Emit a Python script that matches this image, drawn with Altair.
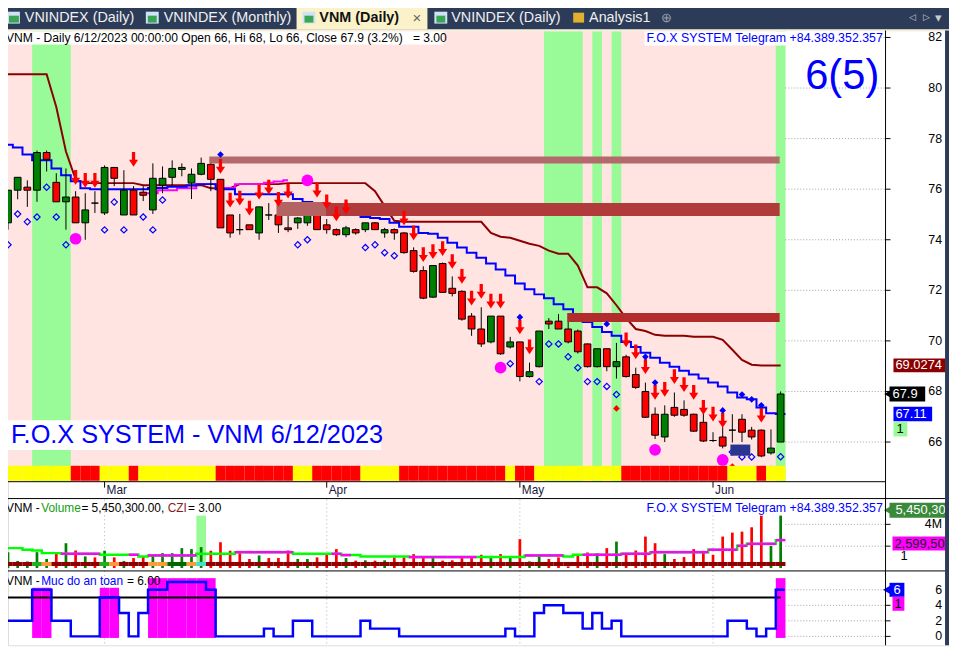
import altair as alt
import pandas as pd

# ---------------- data ----------------
months = ["Mar", "Apr", "May", "Jun"]
month_idx = [10, 33, 53, 73]

opens = [74.67, 75.96, 76.08, 75.96, 77.45, 76.27, 75.5, 75.69, 74.67, 75.45,
         75.06, 76.86, 74.98, 75.96, 75.88, 75.18, 76.16, 76.47, 76.78, 76.24,
         76.59, 76.98, 76.39, 74.98, 74.4, 74.59, 74.27, 74.98, 74.98, 74.47,
         74.67, 74.67, 74.98, 74.59, 74.4, 74.2, 74.4, 74.4, 74.67, 74.27,
         74.4, 74.27, 73.57, 72.78, 71.73, 73.06, 72.08, 71.96, 70.98, 70.47,
         69.96, 70.98, 69.76, 69.96, 68.59, 68.98, 70.78, 70.78, 70.47, 70.39,
         69.88, 68.98, 69.69, 68.98, 69.37, 68.67, 68.0, 67.1, 66.2, 67.37,
         67.29, 67.1, 66.78, 66.06, 66.2, 66.47, 66.9, 66.47, 66.47, 65.57, 66.0]
highs = [75.96, 76.47, 76.35, 77.53, 77.53, 76.63, 76.82, 75.92, 75.84, 75.92,
         76.94, 76.86, 76.75, 76.12, 76.12, 77.02, 76.9, 77.14, 77.02, 76.82,
         77.25, 77.22, 76.39, 74.98, 75.02, 74.59, 75.3, 75.45, 75.1, 75.3,
         74.9, 75.33, 75.33, 74.82, 74.45, 74.55, 74.45, 74.67, 74.7, 74.47,
         74.45, 74.3, 73.7, 72.95, 72.98, 73.1, 72.55, 72.0, 71.1, 71.33,
         70.98, 70.98, 70.16, 69.96, 69.14, 70.39, 70.9, 71.06, 70.75, 70.45,
         69.9, 69.69, 69.7, 69.92, 69.45, 68.94, 68.35, 67.37, 67.45, 67.96,
         67.65, 67.12, 67.2, 66.39, 66.59, 67.1, 67.1, 66.6, 66.5, 66.5, 68.0]
lows = [74.4, 75.6, 75.3, 75.5, 76.7, 75.5, 74.4, 74.67, 74.0, 75.06,
        74.98, 76.12, 74.98, 74.98, 75.53, 75.02, 75.84, 76.12, 76.51, 75.61,
        76.55, 75.92, 74.47, 74.08, 74.2, 74.4, 74.0, 74.78, 74.27, 74.3,
        74.43, 74.55, 74.4, 74.24, 74.15, 74.1, 74.2, 74.3, 74.4, 74.08,
        74.0, 73.45, 72.7, 71.65, 71.7, 71.9, 71.76, 70.8, 70.2, 69.76,
        69.9, 69.45, 69.7, 68.4, 68.55, 68.95, 70.47, 70.47, 69.9, 69.5,
        68.95, 68.95, 68.8, 68.51, 68.55, 68.1, 66.95, 66.12, 66.0, 67.0,
        67.0, 66.4, 66.0, 66.0, 65.75, 65.98, 66.0, 66.1, 65.4, 65.5, 66.0]
closes = [75.96, 76.47, 75.96, 77.45, 77.18, 75.5, 75.69, 74.67, 75.18, 75.45,
          76.86, 76.43, 75.96, 74.98, 75.76, 76.43, 76.43, 76.82, 76.86, 76.59,
          77.02, 76.39, 74.47, 74.27, 74.4, 74.4, 75.3, 74.98, 74.59, 74.4,
          74.86, 74.98, 74.4, 74.4, 74.2, 74.47, 74.27, 74.67, 74.4, 74.4,
          74.27, 73.49, 72.75, 71.69, 72.98, 71.92, 71.88, 70.86, 70.47, 69.88,
          70.98, 69.49, 69.96, 68.59, 68.78, 70.39, 70.67, 70.47, 69.96, 69.57,
          68.98, 69.69, 68.98, 69.18, 68.59, 68.16, 66.98, 66.27, 67.1, 67.06,
          67.06, 66.43, 66.04, 66.06, 65.84, 66.47, 66.39, 66.2, 65.45, 65.76, 67.9]

blue_line = [77.76, 77.65, 77.37, 77.14, 77.14, 76.82, 76.55, 76.31, 76.04, 76.0,
             76.0, 76.0, 76.0, 76.0, 76.0, 76.05, 76.05, 76.1, 76.1, 76.15,
             76.2, 76.2, 76.0, 76.0, 75.8, 75.8, 75.8, 75.8, 75.8, 75.8,
             75.61, 75.49, 75.41, 75.33, 75.25, 75.14, 75.06, 74.9, 74.86, 74.82,
             74.67, 74.51, 74.51, 74.27, 74.24, 74.08, 73.88, 73.69, 73.49, 73.29,
             73.06, 72.82, 72.59, 72.27, 72.04, 71.84, 71.69, 71.45, 71.25, 71.02,
             70.75, 70.55, 70.35, 70.2, 69.96, 69.76, 69.53, 69.33, 69.14, 68.98,
             68.82, 68.67, 68.51, 68.35, 68.2, 67.96, 67.76, 67.69, 67.37, 67.14, 67.11]
maroon_line = [80.55, 80.55, 80.55, 80.55, 80.55, 79.25, 77.49, 76.39, 76.24, 76.24,
               76.24, 76.24, 76.24, 76.24, 76.16, 76.16, 76.16, 76.16, 76.16, 76.16,
               76.16, 76.04, 76.04, 76.04, 76.2, 76.2, 76.2, 76.2, 76.2, 76.24,
               76.24, 76.24, 76.24, 76.24, 76.24, 76.24, 76.24, 76.24, 75.92, 75.33,
               74.75, 74.71, 74.71, 74.71, 74.71, 74.71, 74.71, 74.71, 74.71, 74.71,
               74.27, 74.12, 74.08, 73.96, 73.84, 73.76, 73.57, 73.45, 73.45, 72.98,
               72.12, 72.12, 71.88, 71.41, 70.9, 70.47, 70.39, 70.24, 70.2, 70.2,
               70.2, 70.16, 70.16, 70.16, 70.04, 69.65, 69.25, 69.06, 69.03, 69.03, 69.03]
magenta_idx = list(range(14, 30))
magenta_line = [75.84, 75.84, 75.96, 75.96, 76.04, 76.04, 76.2, 76.2, 76.05, 76.05,
                76.2, 76.2, 76.2, 76.25, 76.3, 76.35]

arrow_idx = [7, 8, 9, 13, 22, 23, 24, 25, 26, 27, 28, 29, 32, 33, 34, 35, 41, 42, 43, 44,
             45, 46, 47, 48, 49, 50, 51, 53, 54, 64, 65, 66, 67, 68, 69, 70, 71, 72, 73, 74, 78]
arrow_px = [76.47, 76.35, 76.35, 77.18, 76.9, 75.57, 75.65, 75.25, 75.88, 76.08, 75.6, 75.92,
            75.96, 75.5, 75.02, 75.3, 74.86, 74.27, 73.41, 73.53, 73.65, 73.14, 72.55, 71.69,
            71.96, 71.57, 71.57, 70.55, 69.76, 70.04, 69.57, 68.98, 67.96, 68.08, 68.59,
            68.27, 67.96, 67.37, 67.1, 66.86, 67.06]

bdia_idx = [22, 53, 62, 66, 67, 74, 76, 77, 78]
bdia_px = [77.37, 70.94, 70.67, 69.37, 68.35, 67.25, 67.88, 67.69, 67.45]

hdia_idx = [0, 1, 2, 3, 4, 5, 6, 10, 11, 12, 14, 15, 16, 30, 31, 37, 38, 39, 40,
            52, 55, 56, 57, 58, 59, 60, 61, 62, 63, 75, 76, 77, 79, 80]
hdia_px = [73.8, 75.02, 74.71, 74.9, 76.08, 74.9, 73.8, 74.39, 75.49, 74.39, 74.9, 74.39,
           75.57, 73.8, 74.0, 73.69, 73.8, 73.49, 73.37, 69.1, 68.39, 69.88, 69.88, 69.37,
           68.94, 68.39, 68.39, 68.2, 67.88, 65.61, 65.41, 65.41, 64.91, 65.42]

rdia_idx = [63, 75, 80]
rdia_px = [67.33, 65.03, 64.84]

dot_idx = [7, 31, 51, 67, 74]
dot_px = [74.04, 76.35, 68.94, 65.69, 65.29]

green_from = [3, 56, 61, 63, 80]
green_to = [6, 59, 61, 63, 80]

strip_colors = (["#ffff00"] * 7 + ["#ff0000"] * 3 + ["#ffff00"] * 3 + ["#ff0000"] * 1 +
                ["#ffff00"] * 8 + ["#ff0000"] * 8 + ["#ffff00"] * 2 + ["#ff0000"] * 5 +
                ["#ffff00"] * 4 + ["#ff0000"] * 11 + ["#ffff00"] * 1 + ["#ff0000"] * 2 +
                ["#ffff00"] * 9 + ["#ff0000"] * 11 + ["#ffff00"] * 3 + ["#ff0000"] * 1 +
                ["#ffff00"] * 2)

band_x1 = [20.84, 27.8, 32.85, 57.9]
band_x2 = [79.9, 32.85, 79.9, 79.9]
band_top = [77.29, 75.49, 75.45, 71.1]
band_bot = [77.02, 74.94, 74.94, 70.75]
band_col = ["#b46a6a", "#b46363", "#b13a3a", "#b22c2c"]

navy_x = [74.8, 76.86]
navy_y = [65.9, 65.46]

volumes = [1.45, 0.64, 0.6, 1.45, 0.82, 1.3, 2.27, 1.6, 1.06, 0.97,
           1.58, 0.97, 0.64, 0.91, 1.06, 1.15, 1.36, 1.36, 1.82, 1.73,
           1.91, 1.58, 2.36, 1.58, 1.36, 0.82, 1.15, 0.91, 0.91, 1.6,
           0.82, 0.82, 0.97, 1.36, 1.73, 0.91, 0.67, 0.7, 0.67, 0.7,
           0.97, 0.97, 1.27, 1.06, 0.91, 0.67, 0.7, 1.06, 1.0, 1.21,
           0.91, 1.27, 1.06, 2.64, 0.6, 1.15, 0.82, 0.97, 0.15, 1.15,
           1.42, 1.36, 1.82, 2.42, 1.21, 1.6, 2.88, 2.27, 1.27, 0.82,
           1.0, 1.73, 1.42, 1.21, 2.88, 3.24, 3.33, 3.73, 4.79, 2.03, 4.8]
vol_dir = ("gggggrgrgr" + "grgrrggggg" + "grrrrrgrrr" + "ggrrrgrgrg" + "rrrrgrrrrr" +
           "grgrggrrrr" + "rgrgrrrrgr" + "rrrrrrrrrgg")
vol_ma = [1.82, 1.82, 1.67, 1.6, 1.36, 1.36, 1.3, 1.3, 1.3, 1.3,
          1.21, 1.21, 1.21, 1.21, 1.06, 1.15, 1.15, 1.15, 1.15, 1.15,
          1.3, 1.3, 1.3, 1.3, 1.45, 1.45, 1.45, 1.45, 1.45, 1.45,
          1.3, 1.3, 1.3, 1.3, 1.3, 1.18, 1.18, 1.06, 1.06, 1.06,
          1.06, 1.06, 1.0, 1.0, 1.0, 1.0, 1.0, 1.0, 1.0, 1.0,
          1.0, 1.0, 1.0, 1.0, 1.15, 1.15, 1.15, 1.15, 1.06, 1.21,
          1.21, 1.21, 1.21, 1.21, 1.3, 1.3, 1.3, 1.45, 1.45, 1.45,
          1.45, 1.45, 1.45, 1.67, 1.67, 1.67, 2.03, 2.21, 2.21, 2.21, 2.55]
vol_ma_magenta = [6, 7, 8, 9, 13, 15, 16, 17, 18, 19, 24, 25, 26, 27, 28, 29, 34, 35,
                  42, 43, 44, 45, 46, 47, 48, 54, 55, 56, 57, 60, 61, 62, 63, 64, 65,
                  66, 67, 68, 69, 70, 71, 72, 73, 74, 75, 76, 77, 78, 79, 80]
base_special = {3: "#22b022", 4: "#ff9a3c", 10: "#22b022", 11: "#ff9a3c", 15: "#ff9a3c",
                16: "#ff9a3c", 17: "#006400", 18: "#006400", 19: "#ff9a3c", 20: "#40e0d0"}

safety = [2, 2, 2, 6, 6, 2, 2, 0, 0, 0, 5, 5, 3, 0, 3, 6, 6, 7, 7, 7,
          7, 6, 0, 0, 0, 0, 0, 1, 0, 0, 2, 2, 0, 0, 0, 0, 0, 2, 1, 1,
          1, 0, 0, 0, 0, 0, 0, 0, 0, 0, 0, 0, 1, 0, 0, 3, 4, 4, 3, 3,
          1, 3, 1, 2, 0, 0, 0, 0, 0, 0, 0, 0, 0, 0, 0, 2, 2, 1, 0, 1, 6]
safe_blocks_idx = [3, 4, 10, 11, 15, 16, 17, 18, 19, 20, 21, 80]
safe_blocks_top = [6.26, 6.26, 6.26, 6.26, 7.5, 7.5, 7.5, 7.5, 7.5, 7.5, 7.5, 7.5]

price_ticks = [66, 68, 70, 72, 74, 76, 78, 80, 82]
vol_ticks = [2, 4]
vol_tick_labels = ["2M", "4M"]
safe_ticks = [0, 2, 4, 6]

NB = "\u00a0"

# ---------------- scales ----------------
PXB = 9.74
XS = alt.Scale(domain=[0, 949 / PXB], nice=False, zero=False)
PS = alt.Scale(domain=[57.961, 83.059], nice=False, zero=False)
VS = alt.Scale(domain=[-7.09, 51.09], nice=False, zero=False)
SS = alt.Scale(domain=[-1.149, 80.59], nice=False, zero=False)
N = len(opens)
idx = list(range(N))


def X(f):
    return alt.X(f + ":Q", scale=XS, axis=None)


def Y(f, sc):
    return alt.Y(f + ":Q", scale=sc, axis=None)


one = pd.DataFrame({"a": [0]})


def prect(x, x2, y, y2, color, **kw):
    return alt.Chart(one).mark_rect(color=color, **kw).encode(
        x=alt.value(x - 8), x2=alt.value(x2 - 8), y=alt.value(y - 8), y2=alt.value(y2 - 8))


def ptext(x, y, s, size=12, color="black", align="left", weight="normal",
          font="Liberation Sans"):
    return alt.Chart(one).mark_text(text=s.replace(" ", NB), fontSize=size, color=color,
                                    align=align, fontWeight=weight, font=font,
                                    baseline="middle").encode(
        x=alt.value(x - 8), y=alt.value(y - 8))


def prule(x, x2, y, y2, color, w=1, dash=None):
    kw = dict(color=color, strokeWidth=w)
    if dash:
        kw["strokeDash"] = dash
    return alt.Chart(one).mark_rule(**kw).encode(
        x=alt.value(x - 8), x2=alt.value(x2 - 8), y=alt.value(y - 8), y2=alt.value(y2 - 8))


# ---------------- price pane ----------------
cdf = pd.DataFrame({"i": idx, "o": opens, "h": highs, "l": lows, "c": closes})
cdf["x1"] = cdf["i"] - 0.35
cdf["x2"] = cdf["i"] + 0.35
cdf["col"] = ["#008000" if c > o else ("#ff0000" if c < o else "#000000")
              for o, c in zip(opens, closes)]

bg = pd.DataFrame({"x1": [-0.5], "x2": [80.5], "y1": [82.3], "y2": [64.43]})
pink = alt.Chart(bg).mark_rect(color="#ffe4e1").encode(
    x=X("x1"), x2="x2", y=Y("y1", PS), y2="y2")
gdf = pd.DataFrame({"x1": [a - 0.5 for a in green_from], "x2": [b + 0.5 for b in green_to],
                    "y1": [82.3] * len(green_from), "y2": [64.43] * len(green_from)})
greens = alt.Chart(gdf).mark_rect(color="#98fb98").encode(
    x=X("x1"), x2="x2", y=Y("y1", PS), y2="y2")

grid_df = pd.DataFrame({"p": price_ticks, "x1": [80.5] * 9, "x2": [885 / PXB] * 9})
pgrid = alt.Chart(grid_df).mark_rule(color="#a0a0a0", strokeDash=[1, 2]).encode(
    x=X("x1"), x2="x2", y=Y("p", PS))

bdf = pd.DataFrame({"x1": band_x1, "x2": band_x2, "y1": band_top, "y2": band_bot, "col": band_col})
bands = alt.Chart(bdf).mark_rect().encode(
    x=X("x1"), x2="x2", y=Y("y1", PS), y2="y2", color=alt.Color("col:N", scale=None))

bl = pd.DataFrame({"i": [-0.5] + idx + [80.5], "v": [blue_line[0]] + blue_line + [blue_line[-1]]})
blue = alt.Chart(bl).mark_line(color="#0000ff", strokeWidth=2, interpolate="step").encode(
    x=X("i"), y=Y("v", PS))
ml = pd.DataFrame({"i": idx, "v": maroon_line})
maroon = alt.Chart(ml).mark_line(color="#8b0000", strokeWidth=2).encode(
    x=X("i"), y=Y("v", PS))
mg = pd.DataFrame({"i": magenta_idx, "v": magenta_line})
magenta = alt.Chart(mg).mark_line(color="#ff00ff", strokeWidth=2, interpolate="step").encode(
    x=X("i"), y=Y("v", PS))

wicks = alt.Chart(cdf).mark_rule(color="black", strokeWidth=1).encode(
    x=X("i"), y=Y("l", PS), y2="h")
bodies = alt.Chart(cdf).mark_rect(stroke="black", strokeWidth=1).encode(
    x=X("x1"), x2="x2", y=Y("o", PS), y2="c", color=alt.Color("col:N", scale=None))

ARROW = "M-0.22,-1 L0.22,-1 L0.22,0.05 L0.62,0.05 L0,1 L-0.62,0.05 L-0.22,0.05 Z"
adf = pd.DataFrame({"i": arrow_idx, "p": arrow_px})
arrows = alt.Chart(adf).mark_point(shape=ARROW, filled=True, color="#ff0000", size=220,
                                   opacity=1, strokeWidth=0).encode(x=X("i"), y=Y("p", PS))
bd = pd.DataFrame({"i": bdia_idx, "p": bdia_px})
bdia = alt.Chart(bd).mark_point(shape="diamond", filled=True, color="#0000ff", size=45,
                                opacity=1).encode(x=X("i"), y=Y("p", PS))
hd = pd.DataFrame({"i": hdia_idx, "p": hdia_px})
hdia = alt.Chart(hd).mark_point(shape="diamond", filled=False, color="#0000ff", size=40,
                                strokeWidth=1.2, opacity=1).encode(x=X("i"), y=Y("p", PS))
rd = pd.DataFrame({"i": rdia_idx, "p": rdia_px})
rdia = alt.Chart(rd).mark_point(shape="diamond", filled=True, color="#ff0000", size=45,
                                opacity=1).encode(x=X("i"), y=Y("p", PS))
dd = pd.DataFrame({"i": dot_idx, "p": dot_px})
dots = alt.Chart(dd).mark_circle(color="#ff00ff", size=140, opacity=1).encode(
    x=X("i"), y=Y("p", PS))
nd = pd.DataFrame({"x1": [navy_x[0]], "x2": [navy_x[1]], "y1": [navy_y[0]], "y2": [navy_y[1]]})
navy = alt.Chart(nd).mark_rect(color="#2a3590").encode(
    x=X("x1"), x2="x2", y=Y("y1", PS), y2="y2")

sdf = pd.DataFrame({"x1": [i - 0.5 for i in idx], "x2": [i + 0.5 for i in idx],
                    "y1": [65.06] * N, "y2": [64.47] * N, "col": strip_colors})
strip = alt.Chart(sdf).mark_rect().encode(
    x=X("x1"), x2="x2", y=Y("y1", PS), y2="y2", color=alt.Color("col:N", scale=None))

tdf = pd.DataFrame({"p": price_ticks, "lab": [str(t) for t in price_ticks]})
ptick = alt.Chart(tdf).mark_rule(color="black").encode(
    x=alt.value(885), x2=alt.value(890), y=Y("p", PS))
plab = alt.Chart(tdf).mark_text(align="right", baseline="middle", fontSize=12.5,
                                font="Liberation Sans", color="black").encode(
    x=alt.value(942), y=Y("p", PS), text="lab:N")

# value boxes on price axis
vb = pd.DataFrame({"y1": [69.3, 68.2, 67.4, 66.79], "y2": [68.76, 67.6, 66.82, 66.22],
                   "x1": [893, 889, 893, 893], "x2": [945, 925, 932, 907],
                   "col": ["#8b0000", "#000000", "#0000ff", "#98fb98"]})
vboxes = alt.Chart(vb).mark_rect().encode(
    x=alt.X("x1:Q", scale=None, axis=None), x2="x2",
    y=Y("y1", PS), y2="y2", color=alt.Color("col:N", scale=None))
vtri = alt.Chart(pd.DataFrame({"p": [67.9]})).mark_point(
    shape="triangle-left", filled=True, color="black", size=60, opacity=1).encode(
    x=alt.value(887), y=Y("p", PS))
vt = pd.DataFrame({"p": [69.03, 67.9, 67.11, 66.5], "s": ["69.0274", "67.9", "67.11", "1"],
                   "x": [895, 892, 895, 896], "col": ["white", "white", "white", "black"]})
vtexts = alt.Chart(vt).mark_text(align="left", baseline="middle", fontSize=13,
                                 font="Liberation Sans").encode(
    x=alt.X("x:Q", scale=None, axis=None), y=Y("p", PS), text="s:N",
    color=alt.Color("col:N", scale=None))

price_layer = alt.layer(pink, greens, pgrid, maroon, magenta, blue, wicks, bodies, bands,
                        arrows, bdia, hdia, rdia, dots, navy, strip, ptick, plab,
                        vboxes, vtri, vtexts)

# ---------------- volume pane ----------------
vdf = pd.DataFrame({"i": idx, "v": volumes, "z": [0.0] * N,
                    "x1": [i - 0.14 for i in idx], "x2": [i + 0.14 for i in idx],
                    "col": ["#008000" if d == "g" else "#ff0000" for d in vol_dir]})
vbars = alt.Chart(vdf).mark_rect().encode(
    x=X("x1"), x2="x2", y=Y("z", VS), y2="v", color=alt.Color("col:N", scale=None))
hl = pd.DataFrame({"x1": [19.5], "x2": [20.5], "y1": [4.8], "y2": [0.18]})
vhl = alt.Chart(hl).mark_rect(color="#98fb98").encode(x=X("x1"), x2="x2", y=Y("y1", VS), y2="y2")
basedf = pd.DataFrame({"x1": [i - 0.5 for i in idx], "x2": [i + 0.5 for i in idx],
                       "y1": [0.55] * N, "y2": [0.18] * N,
                       "col": [base_special.get(i, "#8b0000") for i in idx]})
vbase = alt.Chart(basedf).mark_rect().encode(
    x=X("x1"), x2="x2", y=Y("y1", VS), y2="y2", color=alt.Color("col:N", scale=None))
mad = pd.DataFrame({"i": [-0.3] + idx, "v": [vol_ma[0]] + vol_ma})
vma = alt.Chart(mad).mark_line(color="#00ff00", strokeWidth=2.5, interpolate="step").encode(
    x=X("i"), y=Y("v", VS))
mm = pd.DataFrame({"x1": [i - 0.5 for i in vol_ma_magenta], "x2": [i + 0.5 for i in vol_ma_magenta],
                   "v": [vol_ma[i] for i in vol_ma_magenta]})
vmam = alt.Chart(mm).mark_rule(color="#ff00ff", strokeWidth=2.5).encode(
    x=X("x1"), x2="x2", y=Y("v", VS))
vg = pd.DataFrame({"v": vol_ticks, "lab": vol_tick_labels, "x1": [80.5] * 2, "x2": [885 / PXB] * 2})
vgrid = alt.Chart(vg).mark_rule(color="#a0a0a0", strokeDash=[1, 2]).encode(
    x=X("x1"), x2="x2", y=Y("v", VS))
vtick = alt.Chart(vg).mark_rule(color="black").encode(
    x=alt.value(885), x2=alt.value(890), y=Y("v", VS))
vlab = alt.Chart(vg).mark_text(align="right", baseline="middle", fontSize=12.5,
                               font="Liberation Sans").encode(
    x=alt.value(942), y=Y("v", VS), text="lab:N")
vbx = pd.DataFrame({"y1": [5.97, 2.88], "y2": [4.6, 1.6], "x1": [889, 892], "x2": [949, 949],
                    "col": ["#3a8a3a", "#ff00ff"]})
vboxes2 = alt.Chart(vbx).mark_rect().encode(
    x=alt.X("x1:Q", scale=None, axis=None), x2="x2", y=Y("y1", VS), y2="y2",
    color=alt.Color("col:N", scale=None))
vtri2 = alt.Chart(pd.DataFrame({"v": [5.3]})).mark_point(
    shape="triangle-left", filled=True, color="#3a8a3a", size=70, opacity=1).encode(
    x=alt.value(887), y=Y("v", VS))
vt2 = pd.DataFrame({"v": [5.3, 2.24, 1.09], "s": ["5,450,300", "2,599,507", "1"],
                    "x": [895, 894, 900], "col": ["white", "#202020", "black"]})
vtexts2 = alt.Chart(vt2).mark_text(align="left", baseline="middle", fontSize=13,
                                   font="Liberation Sans").encode(
    x=alt.X("x:Q", scale=None, axis=None), y=Y("v", VS), text="s:N",
    color=alt.Color("col:N", scale=None))
vol_layer = alt.layer(vhl, vbars, vbase, vma, vmam, vgrid, vtick, vlab, vboxes2, vtri2, vtexts2)

# ---------------- safety pane ----------------
bk = pd.DataFrame({"x1": [i - 0.5 for i in safe_blocks_idx], "x2": [i + 0.5 for i in safe_blocks_idx],
                   "y1": safe_blocks_top, "y2": [-0.2] * len(safe_blocks_idx)})
sblocks = alt.Chart(bk).mark_rect(color="#ff00ff").encode(
    x=X("x1"), x2="x2", y=Y("y1", SS), y2="y2")
lvl = pd.DataFrame({"x1": [-0.1], "x2": [80.0], "v": [5]})
slevel = alt.Chart(lvl).mark_rule(color="black", strokeWidth=2).encode(
    x=X("x1"), x2="x2", y=Y("v", SS))
sl = pd.DataFrame({"i": [-0.5] + idx + [80.4], "v": [safety[0]] + safety + [safety[-1]]})
sline = alt.Chart(sl).mark_line(color="#0000ff", strokeWidth=2.5, interpolate="step").encode(
    x=X("i"), y=Y("v", SS))
sg = pd.DataFrame({"v": safe_ticks, "lab": [str(t) for t in safe_ticks],
                   "x1": [80.5] * 4, "x2": [885 / PXB] * 4})
sgrid = alt.Chart(sg).mark_rule(color="#a0a0a0", strokeDash=[1, 2]).encode(
    x=X("x1"), x2="x2", y=Y("v", SS))
stick = alt.Chart(sg).mark_rule(color="black").encode(
    x=alt.value(885), x2=alt.value(890), y=Y("v", SS))
slab = alt.Chart(sg).mark_text(align="right", baseline="middle", fontSize=12.5,
                               font="Liberation Sans").encode(
    x=alt.value(942), y=Y("v", SS), text="lab:N")
sbx = pd.DataFrame({"y1": [6.9, 5.1], "y2": [5.1, 3.3], "x1": [889, 892], "x2": [904, 904],
                    "col": ["#0000ff", "#ff00ff"]})
sboxes = alt.Chart(sbx).mark_rect().encode(
    x=alt.X("x1:Q", scale=None, axis=None), x2="x2", y=Y("y1", SS), y2="y2",
    color=alt.Color("col:N", scale=None))
stri = alt.Chart(pd.DataFrame({"v": [6.0]})).mark_point(
    shape="triangle-left", filled=True, color="#0000ff", size=70, opacity=1).encode(
    x=alt.value(886), y=Y("v", SS))
st = pd.DataFrame({"v": [6.0, 4.2], "s": ["6", "1"], "x": [893, 894], "col": ["white", "black"]})
stexts = alt.Chart(st).mark_text(align="left", baseline="middle", fontSize=13,
                                 font="Liberation Sans").encode(
    x=alt.X("x:Q", scale=None, axis=None), y=Y("v", SS), text="s:N",
    color=alt.Color("col:N", scale=None))
safe_layer = alt.layer(sblocks, slevel, sline, sgrid, stick, slab, sboxes, stri, stexts)

# ---------------- chrome ----------------
mdf = pd.DataFrame({"i": month_idx, "m": months})
mticks = alt.Chart(mdf).mark_rule(color="black").encode(
    x=X("i"), y=alt.value(475), y2=alt.value(481))
mlabs = alt.Chart(mdf).mark_text(align="left", baseline="middle", fontSize=12,
                                 font="Liberation Sans", dx=2, color="#1a1a40").encode(
    x=X("i"), y=alt.value(483), text="m:N")
vdots = alt.Chart(mdf).mark_rule(color="#b0b0b0", strokeDash=[1, 3]).encode(
    x=X("i"), y=alt.value(493), y2=alt.value(640))

chrome = [
    # tab bar
    prect(0, 957, 0, 27, "#2c3b57"),
    prect(299, 431, 4, 27, "#fbf2c9"),
    prect(0, 957, 27, 29, "#f6efd9"),
    prect(7, 20, 9, 21, "#cfe3f5"), prect(9, 19, 13, 20, "#3aa655"),
    prect(147, 160, 9, 21, "#cfe3f5"), prect(149, 158, 13, 20, "#3aa655"),
    prect(305, 318, 9, 21, "#cfe3f5"), prect(307, 316, 13, 20, "#3aa655"),
    prect(438, 451, 9, 21, "#cfe3f5"), prect(440, 449, 13, 20, "#3aa655"),
    prect(578, 589, 10, 20, "#e0b030"),
    ptext(25, 15, "VNINDEX (Daily)", 14.5, "#f0f0f0"),
    ptext(165, 15, "VNINDEX (Monthly)", 14.5, "#f0f0f0"),
    ptext(322, 15, "VNM (Daily)", 14.5, "#111111", weight="bold"),
    ptext(416, 15, "×", 15, "#666666"),
    ptext(455, 15, "VNINDEX (Daily)", 14.5, "#f0f0f0"),
    ptext(594, 15, "Analysis1", 14.5, "#f0f0f0"),
    ptext(667, 15, "⊕", 13, "#9aa0aa"),
    ptext(917, 14, "◁", 9, "#c8ccd4"),
    ptext(931, 14, "▷", 9, "#c8ccd4"),
    ptext(943, 15, "▾", 13, "#c8ccd4"),
    # frame lines
    prule(0, 893, 483, 483, "black"),
    prule(0, 957, 500, 500, "black"),
    prule(0, 957, 573, 573, "black"),
    prule(893, 893, 28, 648, "black"),
    prect(953, 957, 28, 648, "#2c3b57"),
    # title boxes
    prect(4, 447, 29, 42, "white"),
    ptext(6, 36, "VNM - Daily 6/12/2023 00:00:00 Open 66, Hi 68, Lo 66, Close 67.9 (3.2%)   = 3.00", 12.2),
    prect(650, 886, 29, 43, "white"),
    ptext(652, 36, "F.O.X SYSTEM Telegram +84.389.352.357", 12.5, "#0000ff"),
    ptext(812, 74, "6(5)", 42, "#0000ff"),
    prect(8, 384, 421, 451, "white"),
    ptext(11, 436, "F.O.X SYSTEM - VNM 6/12/2023", 25.5, "#0000ff"),
    ptext(6, 510, "VNM - ", 12), ptext(41.5, 510, "Volume", 12, "#11a011"),
    ptext(82, 510, " = 5,450,300.00,", 12), ptext(169, 510, "CZI", 12, "#8b1a1a"),
    ptext(189.5, 510, "= 3.00", 12),
    ptext(652, 510, "F.O.X SYSTEM Telegram +84.389.352.357", 12.5, "#0000ff"),
    ptext(6, 583, "VNM - ", 12), ptext(41.5, 583, "Muc do an toan", 12, "#0000ff"),
    ptext(128, 583, "= 6.00", 12),
]

chart = alt.layer(
    vdots, price_layer, vol_layer, safe_layer, mticks, mlabs, *chrome
).resolve_scale(y="independent").properties(
    width=949, height=640,
    autosize=alt.AutoSizeParams(type="none"), padding=0,
).configure_view(stroke=None).configure(background="white")

chart.save("out.html", embed_options={"renderer": "svg", "actions": False})
